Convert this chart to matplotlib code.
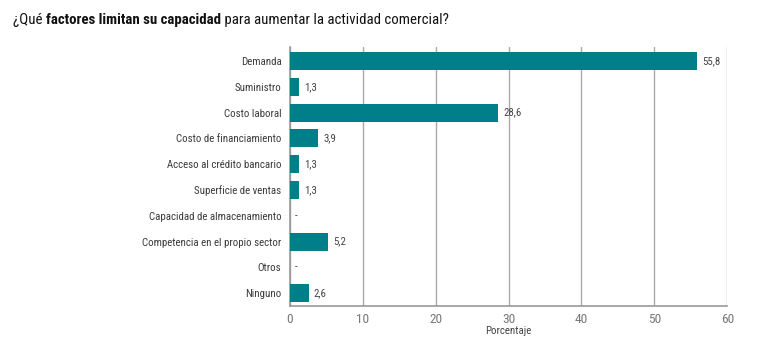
import matplotlib
matplotlib.use("Agg")
import matplotlib.pyplot as plt
from matplotlib import font_manager

categories = ["Demanda", "Suministro", "Costo laboral", "Costo de financiamiento",
              "Acceso al crédito bancario", "Superficie de ventas",
              "Capacidad de almacenamiento", "Competencia en el propio sector",
              "Otros", "Ninguno"]
values = [55.8, 1.3, 28.6, 3.9, 1.3, 1.3, 0.0, 5.2, 0.0, 2.6]
xticks = [0, 10, 20, 30, 40, 50, 60]

names = {f.name for f in font_manager.fontManager.ttflist}
prefs = ["Roboto Condensed", "Archivo Narrow", "PT Sans Narrow", "Liberation Sans Narrow",
         "Fira Sans Condensed", "IBM Plex Sans Condensed", "Encode Sans Condensed",
         "Asap Condensed", "Open Sans Condensed", "Barlow Semi Condensed", "Pragati Narrow",
         "Liberation Sans"]
fam = next(p for p in prefs if p in names)
plt.rcParams['font.family'] = [fam, 'DejaVu Sans']

fig = plt.figure(figsize=(7.77, 3.53), dpi=100)
fig.canvas.draw()
r = fig.canvas.get_renderer()

def width_at10(s, weight="normal"):
    t = fig.text(0, 0, s, fontsize=10, fontweight=weight)
    w = t.get_window_extent(r).width
    t.remove()
    return w

lab_fs = 10 * 132 / width_at10("Capacidad de almacenamiento")
tick_fs = 10 * 13 / width_at10("60")

ax = fig.add_axes([0.373, 0.133, 0.563, 0.734])
teal = "#007f8b"
y = list(range(len(categories)))
ax.barh(y, values, height=0.7, color=teal, zorder=3)
for yi, v in zip(y, values):
    lab = "-" if v == 0 else f"{v:.1f}".replace(".", ",")
    ax.text(v + 0.7, yi, lab, va="center", ha="left", fontsize=lab_fs, color="#444444")

ax.set_ylim(len(categories) - 0.5, -0.55)
ax.set_xlim(0, 60)
ax.set_yticks(y)
ax.set_yticklabels(categories, fontsize=lab_fs, color="#3a3a3a")
ax.set_xticks(xticks)
ax.set_xticklabels([str(t) for t in xticks], fontsize=tick_fs, color="#777777")
ax.tick_params(axis="both", length=0)
ax.tick_params(axis="y", pad=6)
ax.tick_params(axis="x", pad=5)
ax.grid(axis="x", color="#aaaaaa", linewidth=1, zorder=0)
for s in ["top", "right"]:
    ax.spines[s].set_visible(False)
for s in ["left", "bottom"]:
    ax.spines[s].set_color("#999999")
    ax.spines[s].set_linewidth(1.2)
ax.set_xlabel("Porcentaje", fontsize=lab_fs, color="#444444", labelpad=0)

parts = [("¿Qué ", "normal"), ("factores limitan su capacidad", "bold"),
         (" para aumentar la actividad comercial?", "normal")]
total10 = sum(width_at10(s, w) for s, w in parts)
title_fs = 10 * 434 / total10
x = 13 / 777
for s, w in parts:
    t = fig.text(x, 0.943, s, fontsize=title_fs, fontweight=w, color="#111111", va="center")
    x = t.get_window_extent(r).x1 / fig.bbox.width

fig.savefig("out.png", dpi=100)
